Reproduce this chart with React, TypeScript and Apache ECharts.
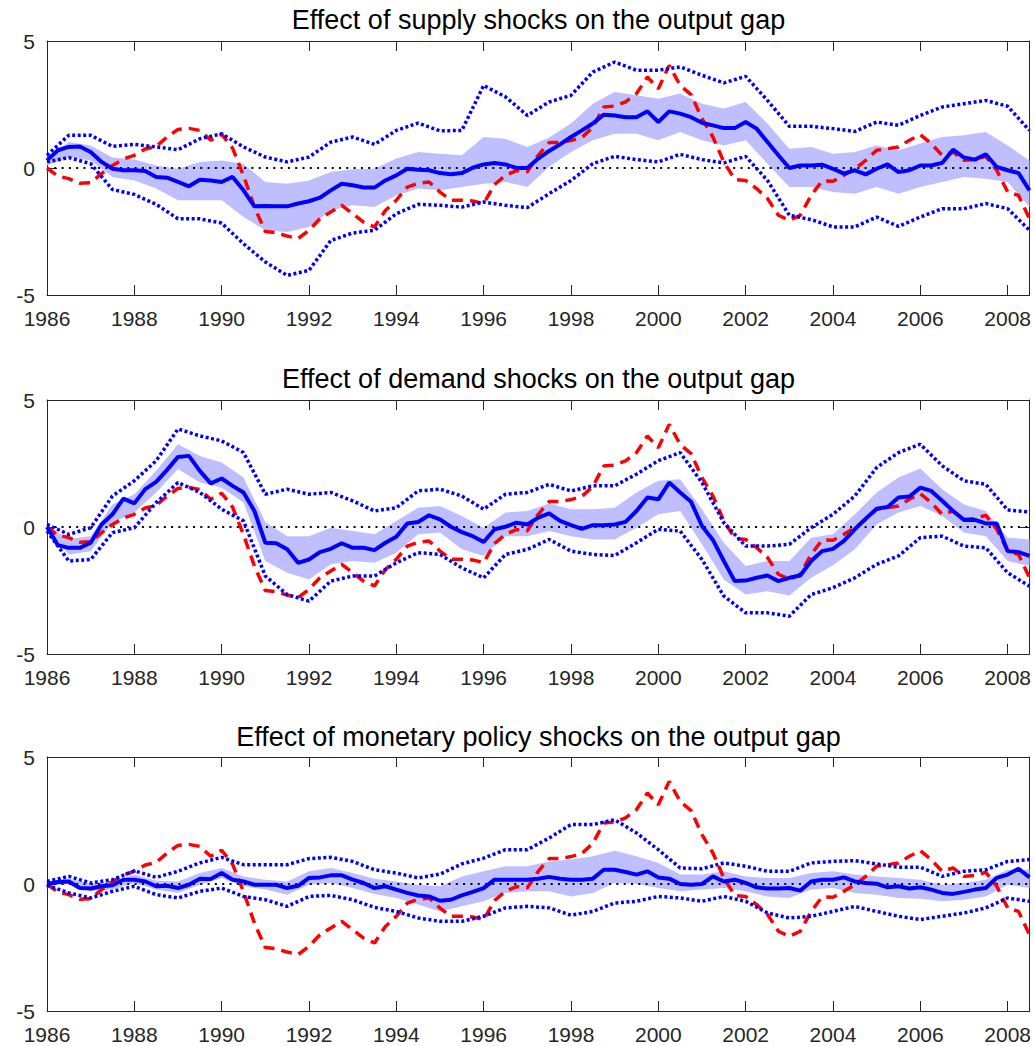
import React, { useEffect, useRef } from "react";
import * as echarts from "echarts";

const QUARTERS: number[] = Array.from({ length: 91 }, (_, i) => 1986 + i / 4);
const HALF_YEARS: number[] = Array.from({ length: 46 }, (_, i) => 1986 + i / 2);

const TITLES = [
  "Effect of supply shocks on the output gap",
  "Effect of demand shocks on the output gap",
  "Effect of monetary policy shocks on the output gap",
];

const OUTPUT_GAP = [
  0, -0.32, -0.42, -0.6, -0.58, -0.22, 0.1, 0.35, 0.5, 0.75,
  0.85, 1.22, 1.52, 1.56, 1.48, 1.09, 1.33, 0.78, -0.3, -1.54,
  -2.5, -2.55, -2.68, -2.78, -2.45, -2.0, -1.73, -1.47, -1.8, -2.13,
  -2.32, -1.67, -1.27, -0.75, -0.6, -0.55, -0.95, -1.27, -1.27, -1.3,
  -1.4, -0.65, -0.29, -0.1, -0.15, 0.5, 1.0, 1.0, 1.08, 1.2,
  1.6, 2.4, 2.44, 2.6, 2.93, 3.58, 3.12, 4.04, 3.25, 2.89,
  1.94, 1.22, 0.24, -0.45, -0.49, -0.81, -1.2, -1.86, -2.06, -1.86,
  -1.08, -0.51, -0.52, -0.29, -0.03, 0.3, 0.7, 0.76, 0.83, 1.09,
  1.31, 0.96, 0.5, 0.63, 0.3, 0.34, 0.46, -0.09, -0.94, -1.08,
  -2.0,
];

const SUPPLY_MEDIAN = [
  0.3, 0.7, 0.83, 0.85, 0.63, 0.24, -0.03, -0.09, -0.09, -0.12,
  -0.35, -0.38, -0.55, -0.72, -0.46, -0.49, -0.55, -0.35, -0.88, -1.51,
  -1.5, -1.51, -1.51, -1.4, -1.31, -1.17, -0.88, -0.62, -0.68, -0.77,
  -0.77, -0.49, -0.29, -0.03, -0.07, -0.09, -0.2, -0.25, -0.2, 0.01,
  0.14, 0.2, 0.14, 0, 0, 0.37, 0.67, 0.93, 1.22, 1.48,
  1.75, 2.1, 2.07, 2.0, 2.0, 2.23, 1.81, 2.23, 2.14, 2.0,
  1.78, 1.68, 1.57, 1.57, 1.81, 1.55, 1.02, 0.5, 0, 0.1,
  0.1, 0.13, -0.03, -0.22, -0.09, -0.25, -0.03, 0.14, -0.16, -0.09,
  0.1, 0.1, 0.2, 0.72, 0.41, 0.33, 0.54, 0.04, -0.09, -0.2,
  -0.88,
];
const SUPPLY_BAND_UP = [
  0.43, 1.02, 0.89, 0.41, 0.33, 0.1, -0.03, 0.24, 0.3, 0.17,
  -0.55, -0.62, -0.49, -0.16, -0.05, -0.03, 0.37, 0.63, 0.56, 0.5,
  1.22, 1.15, 0.83, 1.2, 1.75, 2.53, 2.99, 2.86, 2.73, 2.93,
  2.53, 2.34, 2.6, 1.75, 0.76, 0.83, 0.56, 0.63, 0.89, 0.7,
  0.96, 1.22, 1.29, 1.42, 0.89, 0.3,
];
const SUPPLY_BAND_LO = [
  0.1, 0.43, 0.3, -0.35, -0.49, -0.81, -1.27, -1.27, -1.27, -1.93,
  -2.45, -2.52, -2.32, -1.67, -1.47, -1.54, -1.08, -0.81, -0.88, -0.75,
  -0.62, -0.55, -0.75, 0.05, 0.63, 1.09, 1.35, 1.35, 1.09, 1.42,
  1.09, 0.89, 1.09, 0.17, -0.75, -0.75, -0.94, -1.01, -0.75, -1.01,
  -0.75, -0.55, -0.35, -0.42, -0.55, -1.54,
];
const SUPPLY_DOT_UP = [
  0.5, 1.29, 1.29, 0.85, 0.93, 0.83, 0.72, 1.15, 1.35, 0.83,
  0.43, 0.24, 0.43, 1.02, 1.22, 0.93, 1.48, 1.77, 1.46, 1.48,
  3.25, 2.8, 2.07, 2.6, 2.86, 3.78, 4.17, 3.85, 3.85, 3.98,
  3.65, 3.35, 3.61, 2.66, 1.64, 1.64, 1.55, 1.44, 1.81, 1.68,
  2.07, 2.4, 2.53, 2.66, 2.43, 1.48,
];
const SUPPLY_DOT_LO = [
  0.24, 0.41, 0.17, -0.85, -1.04, -1.43, -2.0, -2.0, -2.17, -2.98,
  -3.7, -4.23, -4.03, -2.85, -2.56, -2.45, -1.8, -1.43, -1.47, -1.54,
  -1.34, -1.47, -1.56, -1.01, -0.49, 0.17, 0.46, 0.33, 0.24, 0.54,
  0.33, 0.2, 0.46, -0.49, -1.86, -2.03, -2.32, -2.32, -1.93, -2.3,
  -1.93, -1.6, -1.6, -1.4, -1.6, -2.45,
];

const DEMAND_MEDIAN = [
  0, -0.72, -0.82, -0.82, -0.62, 0.1, 0.5, 1.12, 0.93, 1.49,
  1.78, 2.25, 2.76, 2.8, 2.21, 1.72, 1.91, 1.62, 1.36, 0.63,
  -0.62, -0.64, -0.88, -1.41, -1.28, -0.99, -0.86, -0.64, -0.82, -0.82,
  -0.91, -0.62, -0.38, 0.14, 0.2, 0.46, 0.3, 0.01, -0.2, -0.36,
  -0.59, -0.09, 0.01, 0.17, 0.1, 0.37, 0.54, 0.24, 0.07, -0.07,
  0.07, 0.07, 0.1, 0.2, 0.63, 1.16, 1.09, 1.75, 1.36, 0.99,
  0.04, -0.51, -1.34, -2.13, -2.11, -2.0, -1.91, -2.13, -2.0, -1.91,
  -1.34, -0.95, -0.86, -0.55, -0.09, 0.33, 0.72, 0.79, 1.16, 1.2,
  1.55, 1.42, 1.03, 0.63, 0.28, 0.28, 0.14, 0.14, -0.95, -0.99,
  -1.14,
];
const DEMAND_BAND_UP = [
  0.01, -0.46, -0.36, 0.89, 1.29, 2.21, 3.26, 2.8, 2.54, 1.95,
  0.2, -0.36, -0.36, -0.03, -0.16, -0.29, 0.24, 0.76, 0.83, 0.43,
  -0.03, 0.57, 0.63, 0.93, 0.7, 0.7, 0.76, 1.36, 1.82, 1.88,
  0.7, -0.62, -1.54, -1.34, -1.34, -0.42, -0.29, 0.5, 1.36, 1.95,
  2.3, 1.49, 0.89, 0.63, -0.42, -0.49,
];
const DEMAND_BAND_LO = [
  -0.09, -1.08, -0.95, 0.17, 0.57, 1.36, 2.28, 1.75, 1.55, 0.96,
  -1.34, -1.8, -2.07, -1.47, -1.34, -1.41, -1.01, -0.29, -0.22, -0.88,
  -1.14, -0.36, -0.36, -0.16, -0.36, -0.49, -0.49, -0.03, 0.5, 0.63,
  -0.68, -2.07, -2.66, -2.53, -2.7, -2.0, -1.51, -0.88, 0.1, 0.57,
  0.83, 0.43, -0.22, -0.36, -1.34, -1.54,
];
const DEMAND_DOT_UP = [
  0.1, -0.29, -0.03, 1.22, 1.82, 2.61, 3.86, 3.59, 3.39, 2.93,
  1.29, 1.49, 1.29, 1.36, 1.03, 0.63, 0.76, 1.42, 1.49, 1.22,
  0.7, 1.29, 1.36, 1.68, 1.42, 1.62, 1.62, 2.08, 2.61, 2.93,
  1.75, 0.17, -0.75, -0.75, -0.68, -0.03, 0.5, 1.22, 2.34, 2.93,
  3.26, 2.41, 1.82, 1.68, 0.67, 0.59,
];
const DEMAND_DOT_LO = [
  -0.16, -1.34, -1.28, -0.22, -0.03, 0.96, 1.75, 1.36, 0.7, 0.24,
  -1.93, -2.66, -2.92, -2.13, -1.93, -1.93, -1.41, -1.01, -1.08, -1.61,
  -2.0, -1.08, -0.88, -0.49, -0.95, -1.08, -1.12, -0.62, -0.09, -0.16,
  -1.28, -2.72, -3.38, -3.38, -3.51, -2.66, -2.39, -2.0, -1.47, -1.14,
  -0.42, -0.36, -0.75, -0.82, -1.8, -2.33,
];

const MONETARY_MEDIAN = [
  0, 0.08, 0.1, -0.16, -0.18, -0.09, -0.05, 0.17, 0.17, 0.1,
  -0.09, -0.07, -0.16, -0.03, 0.21, 0.2, 0.43, 0.17, 0.1, -0.03,
  -0.03, -0.03, -0.16, -0.07, 0.24, 0.26, 0.34, 0.34, 0.17, 0.04,
  -0.16, -0.09, -0.22, -0.35, -0.45, -0.49, -0.66, -0.62, -0.45, -0.31,
  -0.16, 0.17, 0.17, 0.17, 0.17, 0.21, 0.28, 0.21, 0.17, 0.17,
  0.21, 0.56, 0.56, 0.47, 0.37, 0.5, 0.26, 0.21, 0, -0.03,
  0, 0.3, 0.1, 0.17, 0.04, -0.13, -0.18, -0.18, -0.16, -0.26,
  0.1, 0.17, 0.17, 0.26, 0.1, 0.04, 0.01, -0.13, -0.09, -0.18,
  -0.13, -0.22, -0.35, -0.39, -0.31, -0.22, -0.16, 0.24, 0.37, 0.6,
  0.26,
];
const MONETARY_BAND_UP = [
  0.1, 0.21, 0, 0.1, 0.37, 0.13, 0.1, 0.43, 0.63, 0.3,
  0.17, 0.1, 0.5, 0.63, 0.43, 0.21, 0.1, -0.03, -0.09, 0.3,
  0.5, 0.7, 0.7, 0.89, 0.96, 1.09, 1.31, 1.09, 0.83, 0.37,
  0.37, 0.5, 0.3, 0.24, 0.24, 0.43, 0.5, 0.37, 0.3, 0.24,
  0.17, -0.03, 0.04, 0.17, 0.56, 0.56,
];
const MONETARY_BAND_LO = [
  -0.09, 0, -0.29, -0.22, 0.04, -0.22, -0.35, -0.03, 0.24, -0.09,
  -0.22, -0.42, -0.03, 0.04, -0.16, -0.39, -0.55, -0.81, -1.08, -0.88,
  -0.68, -0.35, -0.29, -0.29, -0.49, -0.35, 0.04, 0, -0.16, -0.29,
  -0.22, -0.16, -0.29, -0.49, -0.55, -0.22, -0.16, -0.35, -0.42, -0.55,
  -0.58, -0.68, -0.62, -0.49, -0.03, -0.16,
];
const MONETARY_DOT_UP = [
  0.1, 0.3, 0.04, 0.17, 0.52, 0.26, 0.5, 0.83, 1.05, 0.76,
  0.76, 0.76, 1.0, 1.05, 0.89, 0.56, 0.43, 0.24, 0.39, 0.79,
  1.02, 1.35, 1.35, 1.81, 2.34, 2.34, 2.53, 2.01, 1.35, 0.63,
  0.6, 0.83, 0.7, 0.5, 0.5, 0.83, 0.89, 0.92, 0.79, 0.66,
  0.66, 0.3, 0.5, 0.56, 0.89, 0.96,
];
const MONETARY_DOT_LO = [
  -0.05, -0.35, -0.55, -0.29, -0.09, -0.42, -0.55, -0.29, -0.16, -0.49,
  -0.62, -0.88, -0.49, -0.45, -0.62, -0.92, -1.08, -1.34, -1.47, -1.47,
  -1.27, -0.94, -0.88, -0.94, -1.23, -1.08, -0.75, -0.68, -0.49, -0.55,
  -0.68, -0.49, -0.68, -1.14, -1.34, -1.27, -1.08, -0.88, -1.08, -1.27,
  -1.4, -1.27, -1.14, -0.94, -0.55, -0.68,
];

const PANELS = [
  { median: SUPPLY_MEDIAN, bandUp: SUPPLY_BAND_UP, bandLo: SUPPLY_BAND_LO, dotUp: SUPPLY_DOT_UP, dotLo: SUPPLY_DOT_LO },
  { median: DEMAND_MEDIAN, bandUp: DEMAND_BAND_UP, bandLo: DEMAND_BAND_LO, dotUp: DEMAND_DOT_UP, dotLo: DEMAND_DOT_LO },
  { median: MONETARY_MEDIAN, bandUp: MONETARY_BAND_UP, bandLo: MONETARY_BAND_LO, dotUp: MONETARY_DOT_UP, dotLo: MONETARY_DOT_LO },
];

const FONT = '"Liberation Sans", Arial, Helvetica, sans-serif';
const AXIS_COLOR = "#262626";
const GRID_TOPS = [41, 400, 757];
const GRID_LEFT = 47;
const GRID_WIDTH = 983;
const GRID_HEIGHT = 254;
const TITLE_Y = [20, 379, 737];

function buildOption() {
  const grid: any[] = [];
  const xAxis: any[] = [];
  const yAxis: any[] = [];
  const series: any[] = [];
  const graphic: any[] = [];

  PANELS.forEach((p, i) => {
    grid.push({ left: GRID_LEFT, top: GRID_TOPS[i], width: GRID_WIDTH, height: GRID_HEIGHT, containLabel: false });

    const tick = { show: true, inside: true, length: 10, interval: 0, lineStyle: { color: AXIS_COLOR, width: 1 } };
    const xBase = {
      gridIndex: i,
      type: "value",
      min: 1986,
      max: 2008.5,
      interval: 2,
      splitLine: { show: false },
      axisLine: { show: true, onZero: false, lineStyle: { color: AXIS_COLOR, width: 1 } },
      axisTick: tick,
    };
    xAxis.push({
      ...xBase,
      position: "bottom",
      axisLabel: {
        show: true,
        color: AXIS_COLOR,
        fontSize: 21,
        fontFamily: FONT,
        margin: 13,
        formatter: (v: number) => (Math.abs(v % 2) < 1e-9 ? String(v) : ""),
      },
    });
    xAxis.push({ ...xBase, position: "top", axisLabel: { show: false } });

    const yBase = {
      gridIndex: i,
      type: "value",
      min: -5,
      max: 5,
      interval: 5,
      splitLine: { show: false },
      axisLine: { show: true, onZero: false, lineStyle: { color: AXIS_COLOR, width: 1 } },
      axisTick: tick,
    };
    yAxis.push({
      ...yBase,
      position: "left",
      axisLabel: { show: true, color: AXIS_COLOR, fontSize: 21, fontFamily: FONT, margin: 12 },
    });
    yAxis.push({ ...yBase, position: "right", axisLabel: { show: false } });

    const xi = 2 * i;
    const yi = 2 * i;

    const bandData = HALF_YEARS.map((x, k) => [x, p.bandLo[k], p.bandUp[k]]);
    series.push({
      type: "custom",
      xAxisIndex: xi,
      yAxisIndex: yi,
      z: 1,
      silent: true,
      data: bandData,
      encode: { x: 0, y: [1, 2] },
      renderItem: (params: any, api: any) => {
        if (params.dataIndex !== 0) return null;
        const upper = bandData.map((d) => api.coord([d[0], d[2]]));
        const lower = bandData.map((d) => api.coord([d[0], d[1]])).reverse();
        return {
          type: "polygon",
          shape: { points: upper.concat(lower) },
          style: { fill: "#bfbfff", stroke: "none" },
        };
      },
    });

    series.push({
      type: "line",
      xAxisIndex: xi,
      yAxisIndex: yi,
      z: 3,
      silent: true,
      showSymbol: false,
      symbol: "none",
      data: QUARTERS.map((x, k) => [x, OUTPUT_GAP[k]]),
      lineStyle: { color: "#ff0000", width: 3.5, type: [11, 7] },
      markLine: {
        silent: true,
        symbol: "none",
        label: { show: false },
        lineStyle: { color: "#000000", width: 2, type: [2, 5.3] },
        data: [{ yAxis: 0 }],
        z: 2,
      },
    });

    [p.dotUp, p.dotLo].forEach((arr) => {
      series.push({
        type: "line",
        xAxisIndex: xi,
        yAxisIndex: yi,
        z: 4,
        silent: true,
        showSymbol: false,
        symbol: "none",
        data: HALF_YEARS.map((x, k) => [x, arr[k]]),
        lineStyle: { color: "#0000ff", width: 3.5, type: [3, 2.5] },
      });
    });

    series.push({
      type: "line",
      xAxisIndex: xi,
      yAxisIndex: yi,
      z: 5,
      silent: true,
      showSymbol: false,
      symbol: "none",
      data: QUARTERS.map((x, k) => [x, p.median[k]]),
      lineStyle: { color: "#0000ff", width: 4 },
    });

    graphic.push({
      type: "text",
      x: GRID_LEFT + GRID_WIDTH / 2,
      y: TITLE_Y[i],
      silent: true,
      style: {
        text: TITLES[i],
        font: `27px ${FONT}`,
        fill: "#000000",
        align: "center",
        verticalAlign: "middle",
        textAlign: "center",
        textVerticalAlign: "middle",
      },
    });
  });

  return {
    animation: false,
    backgroundColor: "#ffffff",
    grid,
    xAxis,
    yAxis,
    series,
    graphic,
  };
}

export default function App() {
  const ref = useRef<HTMLDivElement>(null);
  useEffect(() => {
    document.body.style.margin = "0";
    if (!ref.current) return;
    const chart = echarts.init(ref.current, undefined, { renderer: "svg" });
    chart.setOption(buildOption() as any);
    return () => chart.dispose();
  }, []);
  return <div ref={ref} style={{ width: 1034, height: 1046 }} />;
}
